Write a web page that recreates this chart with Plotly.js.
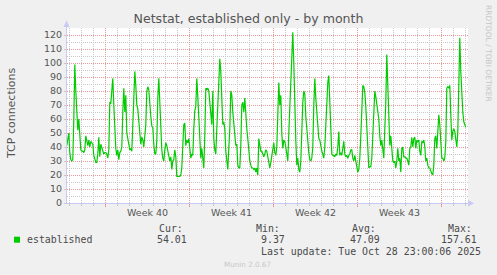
<!DOCTYPE html>
<html><head><meta charset="utf-8">
<script src="https://cdn.plot.ly/plotly-3.0.1.min.js"></script>
<style>html,body{margin:0;padding:0;background:#f0f0f0;overflow:hidden}#chart{width:497px;height:275px}</style>
</head><body><div id="chart"></div>
<script>
// ---------------- data ----------------
const seriesName = 'established';
const startTime = '2025-09-25T19:00:00Z';   // first sample
const stepHours = 2;                          // munin monthly resolution
const established = [
41,48,50,36,31,30,31,60,99,80, 64,52,60,45,38,37,37,36,38,48,
44,41,45,40,44,43,42,34,32,29, 29,35,47,33,42,40,37,35,36,36,
35,32,38,72,71,80,89,70,50,39, 34,38,31,36,37,40,65,82,65,77,
50,47,42,38,39,37,55,70,94,84, 70,67,60,50,42,47,45,40,46,56,
80,83,81,66,62,55,54,42,35,35, 44,75,89,72,50,38,32,30,38,43,
41,38,35,30,33,24,30,31,38,33, 19,19,19,19,20,25,41,56,57,41,
45,43,46,35,32,35,34,53,66,69, 89,76,63,44,32,39,33,25,48,82,
81,82,80,72,63,56,80,46,38,35, 53,70,87,103,94,72,56,58,53,37,
30,24,39,53,80,77,65,56,53,41, 42,27,25,25,41,70,72,65,75,60,
53,46,37,30,27,25,25,24,25,22, 25,20,46,41,37,37,34,33,35,38,
37,33,28,25,29,33,40,43,36,34, 40,70,86,70,77,50,39,45,44,40,
33,30,50,70,82,110,122,100,63,45, 27,32,24,22,30,53,72,80,78,62,
51,45,36,31,30,32,40,70,89,75, 66,57,46,45,40,37,35,32,40,60,
78,86,91,68,45,35,34,34,33,35, 34,40,51,34,36,34,39,44,35,33,
34,32,34,35,38,38,32,30,34,30, 25,22,24,32,48,65,84,83,79,69,
56,39,25,26,26,32,48,70,80,76, 70,68,60,48,41,45,37,32,53,72,
106,84,48,41,48,34,30,29,30,25, 30,39,30,32,22,39,40,33,33,32,
32,30,27,39,40,47,40,46,47,39, 45,44,45,37,34,44,43,45,40,30,
32,27,25,25,22,21,20,27,46,48, 39,56,63,56,41,32,32,30,32,44,
82,83,82,84,63,45,51,53,51,44, 40,51,89,118,94,72,65,58,55,54
];
const xRange = ['2025-09-25 19:24', '2025-10-29 05:24'];
const yRange = [0, 125];
const weekStart = '2025-09-29';
const weekLabels = ['Week 40', 'Week 41', 'Week 42', 'Week 43'];
const weekCenters = ['2025-10-02 12:00', '2025-10-09 12:00', '2025-10-16 12:00', '2025-10-23 12:00'];
const statHeaders = ['Cur:', 'Min:', 'Avg:', 'Max:'];
const statValues = ['54.01', '9.37', '47.09', '157.61'];
const lastUpdate = 'Last update: Tue Oct 28 23:00:06 2025';
const titleText = 'Netstat, established only - by month';
const yTitle = 'TCP connections';
const watermark = 'RRDTOOL / TOBI OETIKER';
const footer = 'Munin 2.0.67';

// ---------------- build ----------------
const DAY = 86400000;
const t0 = Date.parse(startTime);
const fmt = ms => new Date(ms).toISOString().replace('T', ' ').slice(0, 19);
const times = established.map((_, i) => fmt(t0 + i * stepHours * 3600e3));

// minor (daily) grid positions that are not week boundaries
const wk0 = Date.parse(weekStart + 'T00:00:00Z');
const xMinorVals = [];
for (let d = -3; d <= 30; d++) if (((d % 7) + 7) % 7 !== 0) xMinorVals.push(fmt(wk0 + d * DAY));
const yMinorVals = [];
for (let v = yRange[0] + 5; v <= yRange[1]; v += 10) yMinorVals.push(v);

const W = 497, H = 275, L = 67, R = 29, T = 28, B = 72;
const PW = W - L - R, PH = H - T - B;
const px = x => (x - L) / PW;
const py = y => (H - B - y) / PH;

const grey = '#555555';
const txtGrey = '#4a4a4a';
const sans = 'DejaVu Sans, sans-serif';
const mono = 'DejaVu Sans Mono, monospace';
const axisCol = '#c9c9f5';
const majCol = '#eb9a9a';
const minCol = '#c8c8c8';

const annotations = [];
weekLabels.forEach((lab, i) => annotations.push({
  text: lab, x: weekCenters[i], xref: 'x', y: py(212.5), yref: 'paper',
  showarrow: false, xanchor: 'center', yanchor: 'middle', borderpad: 0,
  font: {family: sans, size: 9.5, color: grey}
}));
annotations.push({text: yTitle, x: px(11), y: py(114), xref: 'paper', yref: 'paper',
  showarrow: false, textangle: -90, xanchor: 'center', yanchor: 'middle', borderpad: 0,
  font: {family: sans, size: 11, color: grey}});
annotations.push({text: watermark, x: px(488.5), y: py(53.5), xref: 'paper', yref: 'paper',
  showarrow: false, textangle: 90, xanchor: 'center', yanchor: 'middle', borderpad: 0,
  font: {family: sans, size: 7.5, color: '#c6c6c6'}});
annotations.push({text: seriesName, x: px(26), y: py(239.3), xref: 'paper', yref: 'paper',
  showarrow: false, xanchor: 'left', yanchor: 'middle', borderpad: 0,
  font: {family: mono, size: 9.9, color: txtGrey}});
const headX = [158, 255, 351, 446.7];
const valRight = [187.8, 285.5, 380.8, 477.5];
statHeaders.forEach((h, i) => {
  annotations.push({text: h, x: px(headX[i]), y: py(228), xref: 'paper', yref: 'paper',
    showarrow: false, xanchor: 'left', yanchor: 'middle', borderpad: 0,
    font: {family: mono, size: 9.9, color: txtGrey}});
  annotations.push({text: statValues[i], x: px(valRight[i]), y: py(239.3), xref: 'paper', yref: 'paper',
    showarrow: false, xanchor: 'right', yanchor: 'middle', borderpad: 0,
    font: {family: mono, size: 9.9, color: txtGrey}});
});
annotations.push({text: lastUpdate, x: px(482.3), y: py(251), xref: 'paper', yref: 'paper',
  showarrow: false, xanchor: 'right', yanchor: 'middle', borderpad: 0,
  font: {family: mono, size: 9.9, color: txtGrey}});
annotations.push({text: footer, x: px(247.7), y: py(264.3), xref: 'paper', yref: 'paper',
  showarrow: false, xanchor: 'center', yanchor: 'middle', borderpad: 0,
  font: {family: sans, size: 7.2, color: '#c8c8c8'}});

const shapes = [
  // legend swatch
  {type: 'rect', xref: 'paper', yref: 'paper', x0: px(14), x1: px(20), y0: py(236.7), y1: py(242.7),
   fillcolor: '#00cc00', line: {width: 0}},
  // y axis arrow
  {type: 'path', xref: 'paper', yref: 'paper',
   path: `M ${px(63.5)} ${py(27)} L ${px(69.5)} ${py(27)} L ${px(66.5)} ${py(20.5)} Z`,
   fillcolor: axisCol, line: {width: 0}},
  // x axis arrow
  {type: 'path', xref: 'paper', yref: 'paper',
   path: `M ${px(468)} ${py(200)} L ${px(468)} ${py(206.5)} L ${px(474)} ${py(203.2)} Z`,
   fillcolor: axisCol, line: {width: 0}},
  {type: 'line', xref: 'paper', yref: 'paper', x0: px(66.5), x1: px(66.5), y0: py(28), y1: py(27),
   line: {color: axisCol, width: 1}}
];

const trace = {
  type: 'scatter', mode: 'lines', name: seriesName, x: times, y: established,
  line: {color: '#00cc00', width: 1.2}, hoverinfo: 'skip', showlegend: false
};

const layout = {
  width: W, height: H,
  margin: {l: L, r: R, t: T, b: B, pad: 0},
  paper_bgcolor: '#f0f0f0', plot_bgcolor: '#ffffff',
  showlegend: false,
  title: {text: titleText, x: 0.5, xref: 'container', xanchor: 'center',
          y: 1 - 18.5 / H, yref: 'container', yanchor: 'middle',
          font: {family: sans, size: 12.6, color: grey}},
  xaxis: {
    type: 'date', range: xRange, fixedrange: true,
    tick0: weekStart, dtick: 7 * DAY, tickmode: 'linear',
    showticklabels: false, ticks: 'outside', ticklen: 3, tickcolor: majCol, tickwidth: 1,
    showgrid: true, gridcolor: majCol, griddash: '1px,1px', gridwidth: 1,
    minor: {tickmode: 'array', tickvals: xMinorVals, showgrid: true, gridcolor: minCol, griddash: '1px,1px',
            ticks: 'outside', ticklen: 2, tickcolor: minCol},
    showline: true, linecolor: axisCol, linewidth: 1, zeroline: false
  },
  yaxis: {
    range: yRange, fixedrange: true, tickmode: 'linear', tick0: 0, dtick: 10,
    ticks: 'outside', ticklen: 2, tickcolor: minCol,
    tickfont: {family: sans, size: 9.5, color: grey},
    showgrid: true, gridcolor: majCol, griddash: '1px,1px', gridwidth: 1,
    minor: {tickmode: 'array', tickvals: yMinorVals, showgrid: true, gridcolor: minCol, griddash: '1px,1px'},
    showline: true, linecolor: axisCol, linewidth: 1, zeroline: false
  },
  annotations, shapes
};

Plotly.newPlot('chart', [trace], layout, {staticPlot: true, displayModeBar: false});
</script></body></html>
